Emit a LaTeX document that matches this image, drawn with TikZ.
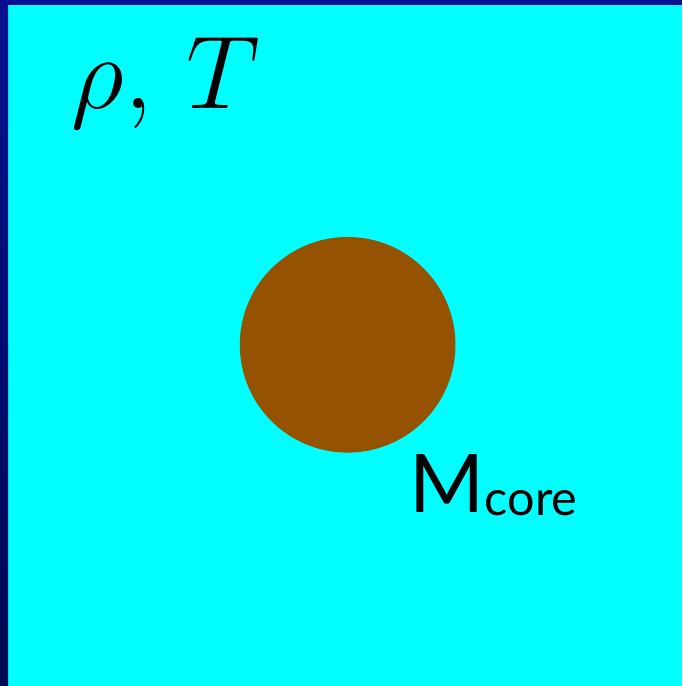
\documentclass[tikz,border=0pt]{standalone}
\usepackage{fix-cm}
\usepackage{fontspec}
\newfontfamily\labelfont{Lato}
\usetikzlibrary{positioning}
\definecolor{gascyan}{HTML}{00FFFF}
\definecolor{rimblue}{HTML}{0A0F8F}
\definecolor{rimdark}{HTML}{020850}
\definecolor{corebrown}{HTML}{955200}
\tikzset{
  corecircle/.style={circle,fill=corebrown,draw=none,inner sep=0pt,minimum size=2.155cm},
  statelabel/.style={inner sep=0pt,anchor=base west,font=\fontsize{29.5}{35}\selectfont},
  masslabel/.style={inner sep=0pt,anchor=base west,font=\labelfont}
}
\begin{document}
\begin{tikzpicture}[x=0.01cm,y=-0.01cm]
        \useasboundingbox (0,0) rectangle (682,686);
        \fill[gascyan] (0,0) rectangle (682,686);
        \fill[rimblue] (0,0) rectangle (682,5);
        \shade[top color=rimblue,bottom color=rimdark] (0,0) rectangle (8,686);
        \node[corecircle] (core) at (347.6,344.8) {};
        \node[statelabel] (state) at (71,109) {$\rho,\,T$};
        \node[masslabel] (mass) at (409,512) {\fontsize{23}{28}\selectfont M\raisebox{-1.1pt}{\fontsize{13.8}{16}\selectfont core}};
      \end{tikzpicture}
\end{document}
